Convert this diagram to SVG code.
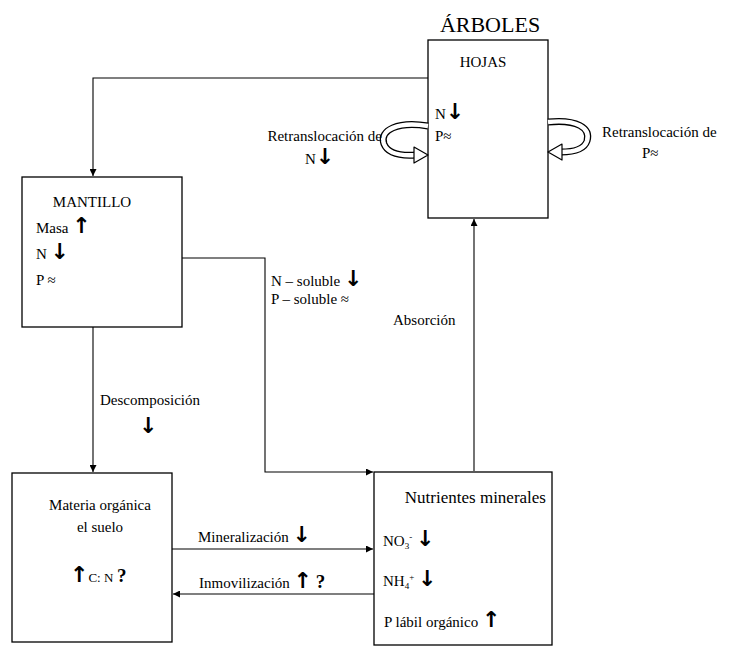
<svg xmlns="http://www.w3.org/2000/svg" width="731" height="648" viewBox="0 0 731 648">
<defs>
<marker id="ah" viewBox="0 0 10 10" refX="10" refY="5" markerWidth="8" markerHeight="7" markerUnits="userSpaceOnUse" orient="auto">
<path d="M0,0 L10,5 L0,10 Z" fill="#000"/>
</marker>
</defs>
<style>
text{font-family:'Liberation Serif','DejaVu Serif',serif;font-size:15px;fill:#000}
.box{fill:none;stroke:#000;stroke-width:1.3}
.ln{fill:none;stroke:#000;stroke-width:1.1;marker-end:url(#ah)}
.ar{font-family:'DejaVu Sans',sans-serif;font-size:22px;font-weight:bold;fill:#000}
.q{font-size:19px;font-weight:bold}
.loopo{fill:none;stroke:#000;stroke-width:7}
.loopi{fill:none;stroke:#fff;stroke-width:4.4}
.head{fill:#fff;stroke:#000;stroke-width:1.2;stroke-linejoin:round}
</style>
<rect width="731" height="648" fill="#fff"/>

<g id="connectors">
<polyline class="ln" points="428,78 93,78 93,176"/>
<polyline class="ln" points="182,258 265,258 265,472 373,472"/>
<polyline class="ln" points="93,327 93,472"/>
<polyline class="ln" points="474,471 474,219"/>
<polyline class="ln" points="172,549 373,549"/>
<polyline class="ln" points="374,594 173,594"/>
</g>

<g id="arboles" font-family="Liberation Serif">
<text x="490" y="32" text-anchor="middle" style="font-size:22px">ÁRBOLES</text>
</g>

<g id="hojas" font-family="Liberation Serif">
<rect class="box" x="428" y="40" width="120" height="178"/>
<text x="483" y="67" text-anchor="middle">HOJAS</text>
<text x="435" y="119">N<tspan class="ar">↓</tspan></text>
<text x="435" y="141">P≈</text>
</g>

<g id="retrans-n" font-family="Liberation Serif">
<path class="loopo" d="M428,126 C398,121 379,130 384,144 C388,154 402,156 416,155"/>
<path class="loopi" d="M428,126 C398,121 379,130 384,144 C388,154 402,156 416,155"/>
<polygon class="head" points="414,147 428,155 414,163"/>
<text x="382" y="141" text-anchor="end">Retranslocación de</text>
<text x="305" y="164">N<tspan class="ar">↓</tspan></text>
</g>

<g id="retrans-p" font-family="Liberation Serif">
<path class="loopo" d="M548,122 C577,119 591,128 587,141 C584,150 572,152 561,152"/>
<path class="loopi" d="M548,122 C577,119 591,128 587,141 C584,150 572,152 561,152"/>
<polygon class="head" points="562,144 548,152 562,160"/>
<text x="602" y="137">Retranslocación de</text>
<text x="642" y="158">P≈</text>
</g>

<g id="mantillo" font-family="Liberation Serif">
<rect class="box" x="22" y="177" width="160" height="150"/>
<text x="92" y="207" text-anchor="middle">MANTILLO</text>
<text x="36" y="233">Masa <tspan class="ar">↑</tspan></text>
<text x="36" y="259">N <tspan class="ar">↓</tspan></text>
<text x="36" y="285">P ≈</text>
</g>

<g id="soluble-labels" font-family="Liberation Serif">
<text x="271" y="286">N – soluble <tspan class="ar">↓</tspan></text>
<text x="271" y="304">P – soluble ≈</text>
<text x="393" y="325">Absorción</text>
</g>

<g id="descomp-label" font-family="Liberation Serif">
<text x="100" y="405">Descomposición</text>
<text x="139" y="433" class="ar">↓</text>
</g>

<g id="materia" font-family="Liberation Serif">
<rect class="box" x="12" y="473" width="160" height="169"/>
<text x="100" y="510" text-anchor="middle">Materia orgánica</text>
<text x="100" y="532" text-anchor="middle">el suelo</text>
<text x="70" y="582"><tspan class="ar">↑</tspan><tspan style="font-size:13px">C: N</tspan> <tspan class="q">?</tspan></text>
</g>

<g id="flux-labels" font-family="Liberation Serif">
<text x="198" y="542">Mineralización <tspan class="ar">↓</tspan></text>
<text x="199" y="588">Inmovilización <tspan class="ar">↑</tspan> <tspan class="q">?</tspan></text>
</g>

<g id="nutrientes" font-family="Liberation Serif">
<rect class="box" x="374" y="472" width="178" height="173"/>
<text x="546" y="503" text-anchor="end" style="font-size:17px">Nutrientes minerales</text>
<text x="383" y="546">NO<tspan style="font-size:9px" dy="3">3</tspan><tspan style="font-size:9px" dy="-9">-</tspan><tspan dy="6"> </tspan><tspan class="ar">↓</tspan></text>
<text x="383" y="586">NH<tspan style="font-size:9px" dy="3">4</tspan><tspan style="font-size:9px" dy="-9">+</tspan><tspan dy="6"> </tspan><tspan class="ar">↓</tspan></text>
<text x="384" y="627">P lábil orgánico <tspan class="ar">↑</tspan></text>
</g>
</svg>
